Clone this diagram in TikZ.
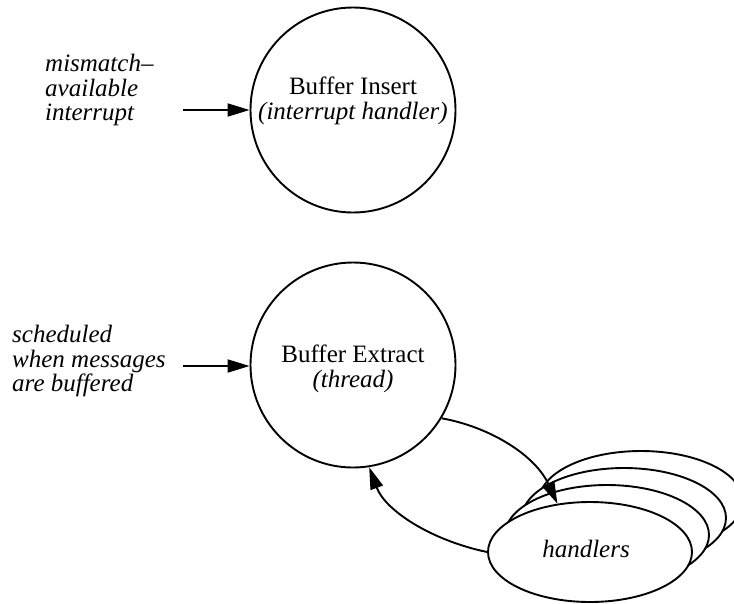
\documentclass[tikz,border=0pt]{standalone}
\usepackage{fontspec}
\setmainfont{Liberation Serif}[ItalicFont={Liberation Serif Italic},BoldFont={Liberation Serif Bold}]
\usetikzlibrary{arrows.meta,shapes.geometric}
\tikzset{
  proc/.style={circle,draw,line width=1.9pt,minimum size=205pt,inner sep=0pt},
  hand/.style={ellipse,draw,fill=white,line width=1.9pt,minimum width=204pt,minimum height=100pt,inner sep=0pt},
  txt/.style={inner sep=0pt,font=\fontsize{25}{24.5}\selectfont},
  note/.style={txt,align=left,anchor=west,font=\fontsize{25}{24.5}\selectfont\itshape},
  flow/.style={line width=1.9pt,-{Triangle[length=22pt,width=13pt]}}
}
\begin{document}
\begin{tikzpicture}[x=1pt,y=-1pt]
\useasboundingbox (0,0) rectangle (734,603);
% processes
\node[proc] (ins) at (353,110) {};
\node[txt,align=center] (insl) at (353,101) {Buffer Insert\\\textit{(interrupt handler)}};
\node[proc] (ext) at (353,365) {};
\node[txt,align=center] (extl) at (353,369) {Buffer Extract\\\textit{(thread)}};
% handler stack
\node[hand] (h4) at (641,501) {};
\node[hand] (h3) at (624,518) {};
\node[hand] (h2) at (607,535) {};
\node[hand] (h1) at (590,552) {};
\node[txt,font=\fontsize{25}{24.5}\selectfont\itshape] (hl) at (586,549) {handlers};
% inputs
\node[note] (n1) at (45,90) {mismatch–\\available\\interrupt};
\node[note] (n2) at (12,361) {scheduled\\when messages\\are buffered};
\coordinate (a1) at (183,110);
\coordinate (a2) at (183,366);
\draw[flow] (a1) -- (ins.west);
\draw[flow] (a2) -- (ext.west |- a2);
% loops
\draw[flow] (ext.-31) .. controls (490,427) and (535,455) .. (h1.124);
\draw[flow] (h1.west) .. controls (430,540) and (385,510) .. (ext.-81);
\end{tikzpicture}
\end{document}
